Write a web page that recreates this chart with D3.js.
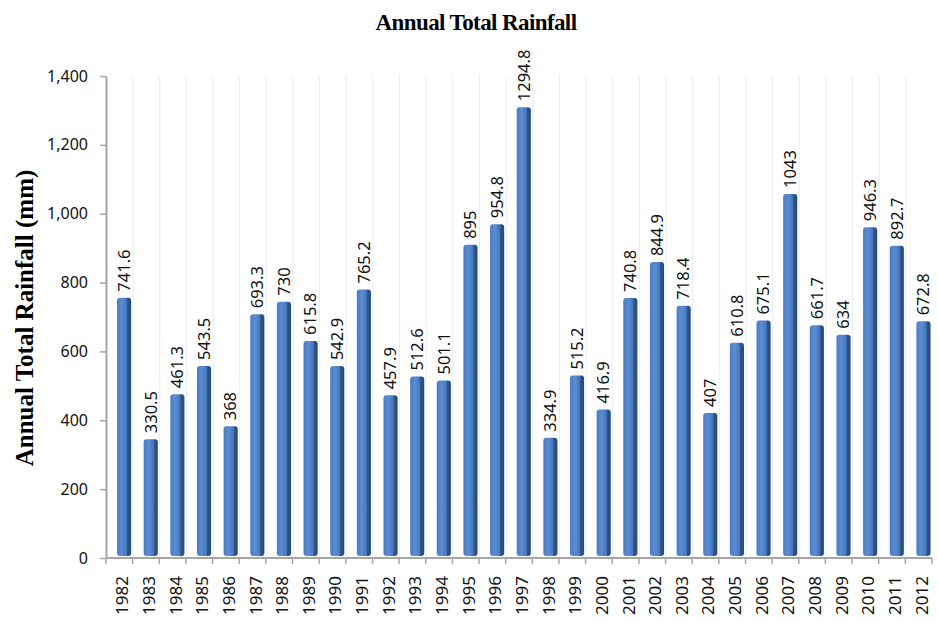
<!DOCTYPE html>
<html>
<head>
<meta charset="utf-8">
<script src="https://cdn.jsdelivr.net/npm/d3@7"></script>
<style>
  body { margin: 0; background: #fff; }
  svg { display: block; }
</style>
</head>
<body>
<div id="chart"></div>
<script>
// data
const years = ["1982","1983","1984","1985","1986","1987","1988","1989","1990","1991",
  "1992","1993","1994","1995","1996","1997","1998","1999","2000","2001","2002","2003",
  "2004","2005","2006","2007","2008","2009","2010","2011","2012"];
const rainfall = [741.6, 330.5, 461.3, 543.5, 368, 693.3, 730, 615.8, 542.9, 765.2,
  457.9, 512.6, 501.1, 895, 954.8, 1294.8, 334.9, 515.2, 416.9, 740.8, 844.9, 718.4,
  407, 610.8, 675.1, 1043, 661.7, 634, 946.3, 892.7, 672.8];
const yTicks = [0, 200, 400, 600, 800, 1000, 1200, 1400];

const w = 938, h = 623;
const plotLeft = 106, plotRight = 932, plotTop = 76, plotBottom = 558;
const depthY = -5; // fake 3d shift of the columns

const svg = d3.select("#chart").append("svg")
  .attr("width", w)
  .attr("height", h);

// gradient for the columns
const grad = svg.append("defs").append("linearGradient")
  .attr("id", "barGrad")
  .attr("x1", "0%").attr("x2", "100%");
grad.append("stop").attr("offset", "0%").attr("stop-color", "#4a7cc0");
grad.append("stop").attr("offset", "35%").attr("stop-color", "#5a8dd3");
grad.append("stop").attr("offset", "70%").attr("stop-color", "#4676b9");
grad.append("stop").attr("offset", "73%").attr("stop-color", "#2d578e");
grad.append("stop").attr("offset", "100%").attr("stop-color", "#26497a");

const x = d3.scaleBand()
  .domain(years)
  .range([plotLeft, plotRight])
  .paddingInner(0)
  .paddingOuter(0);

const y = d3.scaleLinear()
  .domain([0, 1400])
  .range([plotBottom, plotTop]);

const bw = x.bandwidth() * 0.53;

// faint vertical lines at category boundaries
svg.append("g")
  .selectAll("line")
  .data(years.slice(1))
  .enter()
  .append("line")
  .attr("x1", d => x(d) + 0.5)
  .attr("x2", d => x(d) + 0.5)
  .attr("y1", plotTop)
  .attr("y2", plotBottom - 2)
  .attr("stroke", "#ececec")
  .attr("stroke-width", 1);

// y axis
const yAxis = svg.append("g")
  .attr("transform", `translate(${plotLeft},0)`)
  .call(d3.axisLeft(y).tickValues(yTicks).tickSize(6).tickSizeOuter(0)
    .tickFormat(d3.format(",")));
yAxis.select(".domain").attr("stroke", "#a6a6a6").attr("stroke-width", 2);
yAxis.selectAll(".tick line").attr("stroke", "#a6a6a6").attr("stroke-width", 1.5);
yAxis.selectAll(".tick text")
  .attr("x", -18)
  .attr("fill", "#111")
  .style("font-family", "'Noto Sans', sans-serif")
  .style("font-size", "16px");

// x axis with ticks at boundaries
const xAxis = svg.append("g")
  .attr("transform", `translate(0,${plotBottom})`);
xAxis.append("line")
  .attr("x1", plotLeft).attr("x2", plotRight)
  .attr("stroke", "#a6a6a6").attr("stroke-width", 2);
xAxis.selectAll("line.tk")
  .data(years.concat(["end"]))
  .enter()
  .append("line")
  .attr("class", "tk")
  .attr("x1", (d, i) => plotLeft + i * x.step())
  .attr("x2", (d, i) => plotLeft + i * x.step())
  .attr("y1", 0).attr("y2", 6)
  .attr("stroke", "#a6a6a6").attr("stroke-width", 1.5);
xAxis.selectAll("text")
  .data(years)
  .enter()
  .append("text")
  .attr("transform", d => `translate(${x(d) + x.bandwidth() / 2 + 3},${18}) rotate(-90)`)
  .attr("text-anchor", "end")
  .attr("dy", "0.35em")
  .attr("fill", "#111")
  .style("font-family", "'Noto Sans', sans-serif")
  .style("font-size", "17px")
  .text(d => d);

// columns
svg.append("g")
  .selectAll("rect")
  .data(rainfall)
  .enter()
  .append("rect")
  .attr("x", (d, i) => x(years[i]) + x.bandwidth() - bw - 1.5)
  .attr("y", d => y(d) + depthY)
  .attr("width", bw)
  .attr("height", d => plotBottom - 2 - (y(d) + depthY))
  .attr("rx", 3)
  .attr("fill", "url(#barGrad)");

// value labels
svg.append("g")
  .selectAll("text")
  .data(rainfall)
  .enter()
  .append("text")
  .attr("transform", (d, i) =>
    `translate(${x(years[i]) + x.bandwidth() - bw / 2 - 1.5},${y(d) + depthY - 6}) rotate(-90)`)
  .attr("dy", "0.35em")
  .attr("fill", "#111")
  .style("font-family", "'Noto Sans', sans-serif")
  .style("font-size", "16.5px")
  .text(d => d);

// title
svg.append("text")
  .attr("x", 476)
  .attr("y", 30)
  .attr("text-anchor", "middle")
  .style("font-family", "'Liberation Serif', serif")
  .style("font-weight", "bold")
  .style("font-size", "23px")
  .style("letter-spacing", "-0.6px")
  .text("Annual Total Rainfall");

// y label
svg.append("text")
  .attr("transform", "translate(33,318) rotate(-90)")
  .attr("text-anchor", "middle")
  .style("font-family", "'Liberation Serif', serif")
  .style("font-weight", "bold")
  .style("font-size", "25px")
  .text("Annual Total Rainfall (mm)");
</script>
</body>
</html>
